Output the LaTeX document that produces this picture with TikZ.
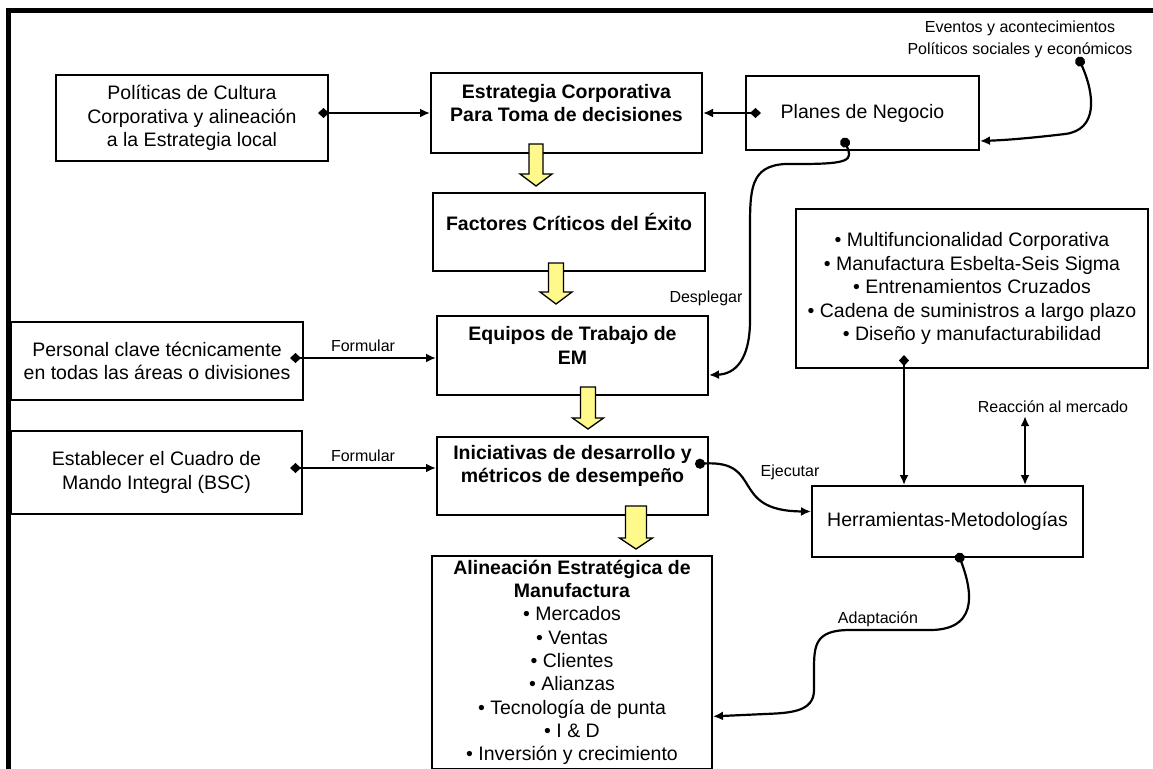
\documentclass[tikz,border=0pt]{standalone}
\usepackage{fontspec}
\setmainfont{Liberation Sans}
\usetikzlibrary{arrows.meta,calc}

\newcommand\bodyfont{\fontsize{19.5}{23.5}\selectfont}
\newcommand\smallfont{\fontsize{16}{22}\selectfont}

% block arrow pointing down: #1 top-centre coordinate, #2 total length,
% #3 head length, #4 shaft half width, #5 head half width
\newcommand\fatarrow[5]{%
  \draw[yarrow] ($(#1)+(-#4,0)$) -- ++(0,#2-#3) -- ++(#4-#5,0)
    -- ($(#1)+(0,#2)$) -- ($(#1)+(#5,#2-#3)$) -- ++(#4-#5,0)
    -- ($(#1)+(#4,0)$) -- cycle;}

\tikzset{
  box/.style={draw, line width=2pt, fill=white, inner sep=0pt, align=center, font=\bodyfont},
  lbl/.style={font=\smallfont, align=center, inner sep=1pt},
  conn/.style={line width=2.2pt},
  ltip/.tip={Latex[length=10pt,width=9pt]},
  ldia/.tip={Diamond[length=11pt,width=10pt]},
  ldot/.tip={Circle[length=10pt]},
  yarrow/.style={draw, line width=1.3pt, fill=yellow!45!white, line join=miter},
}

\begin{document}
\begin{tikzpicture}[x=1pt,y=-1pt]
\useasboundingbox (0,0) rectangle (1153,768);
\clip (0,0) rectangle (1153,768);
\fill[white] (0,0) rectangle (1153,768);

% outer frame
\draw[line width=4.5pt] (8.5,800) -- (8.5,10.5) -- (1200,10.5);

% boxes
\node[box, minimum width=272pt, minimum height=86pt] (pol) at (192,118)
  {Políticas de Cultura\\Corporativa y alineación\\a la Estrategia local};
\node[box, minimum width=271pt, minimum height=80pt,
  label={[font=\bodyfont\bfseries, align=center, yshift=10pt]center:Estrategia Corporativa\\Para Toma de decisiones}]
  (estr) at (566.5,113) {};
\node[box, minimum width=233pt, minimum height=74pt] (plan) at (862.5,113) {Planes de Negocio};
\node[box, minimum width=272pt, minimum height=78pt,
  label={[font=\bodyfont\bfseries, align=center, yshift=10pt]center:Factores Críticos del Éxito}]
  (fac) at (569,232) {};
\node[box, minimum width=271pt, minimum height=79pt,
  label={[font=\bodyfont\bfseries, align=center, yshift=10pt]center:Equipos de Trabajo de\\EM}]
  (equ) at (572.5,355.5) {};
\node[box, minimum width=271pt, minimum height=78pt,
  label={[font=\bodyfont\bfseries, align=center, yshift=10pt]center:Iniciativas de desarrollo y\\métricos de desempeño}]
  (ini) at (572.5,476) {};
\node[box, minimum width=280pt, inner ysep=4pt, anchor=north, font=\fontsize{19.5}{23.3}\selectfont] (ali) at (572,555)
  {\textbf{Alineación Estratégica de}\\\textbf{Manufactura}\\• Mercados\\• Ventas\\• Clientes\\• Alianzas\\• Tecnología de punta\\• I \& D\\• Inversión y crecimiento};
\node[box, minimum width=352pt, minimum height=159pt] (multi) at (972,288.5)
  {• Multifuncionalidad Corporativa\\• Manufactura Esbelta-Seis Sigma\\• Entrenamientos Cruzados\\• Cadena de suministros a largo plazo\\• Diseño y manufacturabilidad};
\node[box, minimum width=271pt, minimum height=71pt] (herr) at (947.5,521.5) {Herramientas-Metodologías};
\node[box, minimum width=292pt, minimum height=78pt] (pers) at (157,361)
  {Personal clave técnicamente\\en todas las áreas o divisiones};
\node[box, minimum width=291pt, minimum height=83pt] (est) at (156.5,472.5)
  {Establecer el Cuadro de\\Mando Integral (BSC)};

% free labels
\node[lbl] (evt) at (1020,39) {Eventos y acontecimientos\\Políticos sociales y económicos};
\node[lbl] (reac) at (1053,407) {Reacción al mercado};
\node[lbl] (despl) at (706,298) {Desplegar};
\node[lbl] (ejec) at (790,472) {Ejecutar};
\node[lbl] (adap) at (878,619) {Adaptación};
\coordinate (evdot) at (1078,57);

% straight connectors
\draw[conn, {ldia}-{ltip}] ($(estr.west -| pol.east)+(-11,0)$) -- (estr.west);
\draw[conn, {ldia}-{ltip}] ($(estr.east -| plan.west)+(16,0)$) -- (estr.east);
\draw[conn, {ldia}-{ltip}] ($(pers.east)+(-14,-3)$) coordinate (p1) -- (p1 -| equ.west)
  node[midway, above=5pt, font=\smallfont, inner sep=0pt] {Formular};
\draw[conn, {ldia}-{ltip}] ($(est.east)+(-13,-4.5)$) coordinate (p2) -- (p2 -| ini.west)
  node[midway, above=5pt, font=\smallfont, inner sep=0pt] {Formular};
\draw[conn, {ldia}-{ltip}] ($(multi.south)+(-68,-14)$) coordinate (m1) -- (m1 |- herr.north);
\draw[conn, {ltip}-{ltip}] ($(reac.south)+(-28,2)$) coordinate (r1) -- (r1 |- herr.north);

% curved connectors
\draw[conn, {ldot}-{ltip}] (evdot) .. controls (1095,95) and (1098,130) .. (1065,134)
  .. controls (1040,137) and (1010,140) .. ($(plan.east)+(0,28)$);
\draw[conn, {ldot}-{ltip}] ($(plan.south)+(-19.5,-13)$) .. controls (853,160) and (850,164) .. (800,164)
  -- (785,164) .. controls (750,166) and (750,190) .. (750,230) -- (750,320)
  .. controls (750,360) and (735,374) .. ($(equ.east)+(0,19.5)$);
\draw[conn, {ldot}-{ltip}] ($(ini.east)+(-14,-12)$) .. controls (765,460) and (728,511) .. ($(herr.west)+(0,-10)$);
\draw[conn, {ldot}-{ltip}] ($(herr.south)+(10.5,-5)$) .. controls (968,580) and (985,630) .. (930,630)
  -- (850,630) .. controls (815,630) and (814,645) .. (814,670) -- (814,690)
  .. controls (814,712) and (790,713) .. (765,714) -- ($(ali.east)+(0,54)$);

% block arrows between the central boxes
\coordinate (a1) at ($(estr.south)+(-30.5,-10)$);
\coordinate (a2) at ($(fac.south)+(-13,-9)$);
\coordinate (a3) at ($(equ.south)+(15.5,-9)$);
\coordinate (a4) at ($(ini.south)+(63.5,-10)$);
\fatarrow{a1}{42}{12}{7}{16}
\fatarrow{a2}{41}{12}{7.5}{16}
\fatarrow{a3}{42}{11}{7.5}{15.5}
\fatarrow{a4}{43}{11}{10.5}{16.5}
\end{tikzpicture}
\end{document}
